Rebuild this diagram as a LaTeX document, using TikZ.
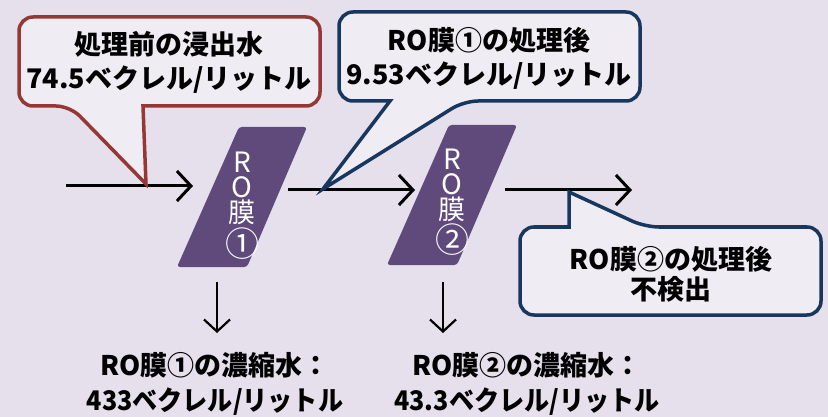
\documentclass[tikz,border=0pt]{standalone}
\usepackage{fontspec}
\newfontfamily\jp{Noto Sans CJK JP}
\usetikzlibrary{arrows.meta}
\definecolor{bg}{HTML}{E5E0EC}
\definecolor{callfill}{HTML}{EFECF4}
\definecolor{redc}{HTML}{953735}
\definecolor{bluec}{HTML}{17375E}
\definecolor{purp}{HTML}{5F4A7B}
\newcommand{\memstack}[2]{\vbox{\offinterlineskip\halign{\hfil##\hfil\cr
  \fontsize{28}{28}\selectfont R\cr\noalign{\kern4.5pt}
  \fontsize{28}{28}\selectfont O\cr\noalign{\kern2pt}
  \fontsize{27}{27}\selectfont 膜\cr\noalign{\kern#2}
  \fontsize{34}{34}\selectfont #1\cr}}}
\begin{document}
\begin{tikzpicture}[x=1pt,y=-1pt,
  flow/.style={line width=3pt,-{Straight Barb[length=14pt,width=30pt]}},
  down/.style={line width=2.2pt,-{Straight Barb[length=12pt,width=26pt]}},
  callout/.style={line width=3.5pt,fill=callfill,line join=miter},
  ctext/.style={font=\jp\bfseries\fontsize{27}{34}\selectfont,align=center,text=black,inner sep=0pt},
  memshape/.style={fill=purp,rounded corners=3pt},
  memtext/.style={font=\jp,text=white,inner sep=0pt,anchor=north},
  btext/.style={font=\jp\bfseries\fontsize{27}{35}\selectfont,align=center,inner sep=0pt}]
\fill[bg] (0,0) rectangle (828,417);
\useasboundingbox (0,0) rectangle (828,417);

% membranes
\fill[memshape] (239,127) -- (307,127) -- (247,267) -- (177,267) -- cycle;
\fill[memshape] (449,125) -- (517,125) -- (457,265) -- (387,265) -- cycle;
\node[memtext] (m1) at (242,151.5) {\memstack{①}{3pt}};
\node[memtext] (m2) at (452,148.5) {\memstack{②}{2pt}};

% flow arrows
\coordinate (a1s) at (66,186);  \coordinate (a1e) at (193,186);
\coordinate (a2s) at (288,190); \coordinate (a2e) at (415,190);
\coordinate (a3s) at (505,190); \coordinate (a3e) at (632,190);
\draw[flow] (a1s) -- (a1e);
\draw[flow] (a2s) -- (a2e);
\draw[flow] (a3s) -- (a3e);

% down arrows
\coordinate (d1s) at (217,282); \coordinate (d1e) at (217,333);
\coordinate (d2s) at (443,282); \coordinate (d2e) at (443,333);
\draw[down] (d1s) -- (d1e);
\draw[down] (d2s) -- (d2e);

% callout 1
\coordinate (t1) at (146,184);
\draw[callout,draw=redc] (143,106) [rounded corners=14pt] -- (320,106) -- (320,17) -- (19,17) -- (19,106) -- (70,106) [sharp corners] -- (t1) -- cycle;
\node[ctext] (c1) at (169,62) {処理前の浸出水\\74.5ベクレル/リットル};

% callout 2
\coordinate (t2) at (323,189);
\draw[callout,draw=bluec] (390,101) [rounded corners=14pt] -- (339,101) -- (339,12) -- (640,12) -- (640,101) -- (464,101) [sharp corners] -- (t2) -- cycle;
\node[ctext] (c2) at (489,58) {RO膜①の処理後\\9.53ベクレル/リットル};

% callout 3
\coordinate (t3) at (569,192);
\draw[callout,draw=bluec] (569,227) [rounded corners=14pt] -- (520,227) -- (520,315) -- (821,315) -- (821,227) -- (645,227) [sharp corners] -- (t3) -- cycle;
\node[ctext,font=\jp\bfseries\fontsize{27}{30}\selectfont] (c3) at (671,274) {RO膜②の処理後\\不検出};

% bottom texts
\node[btext] (b1) at (215,384) {RO膜①の濃縮水：\\\scalebox{0.93}[1]{433ベクレル/リットル}};
\node[btext] (b2) at (527,384) {RO膜②の濃縮水：\\\scalebox{0.93}[1]{43.3ベクレル/リットル}};
\end{tikzpicture}
\end{document}
